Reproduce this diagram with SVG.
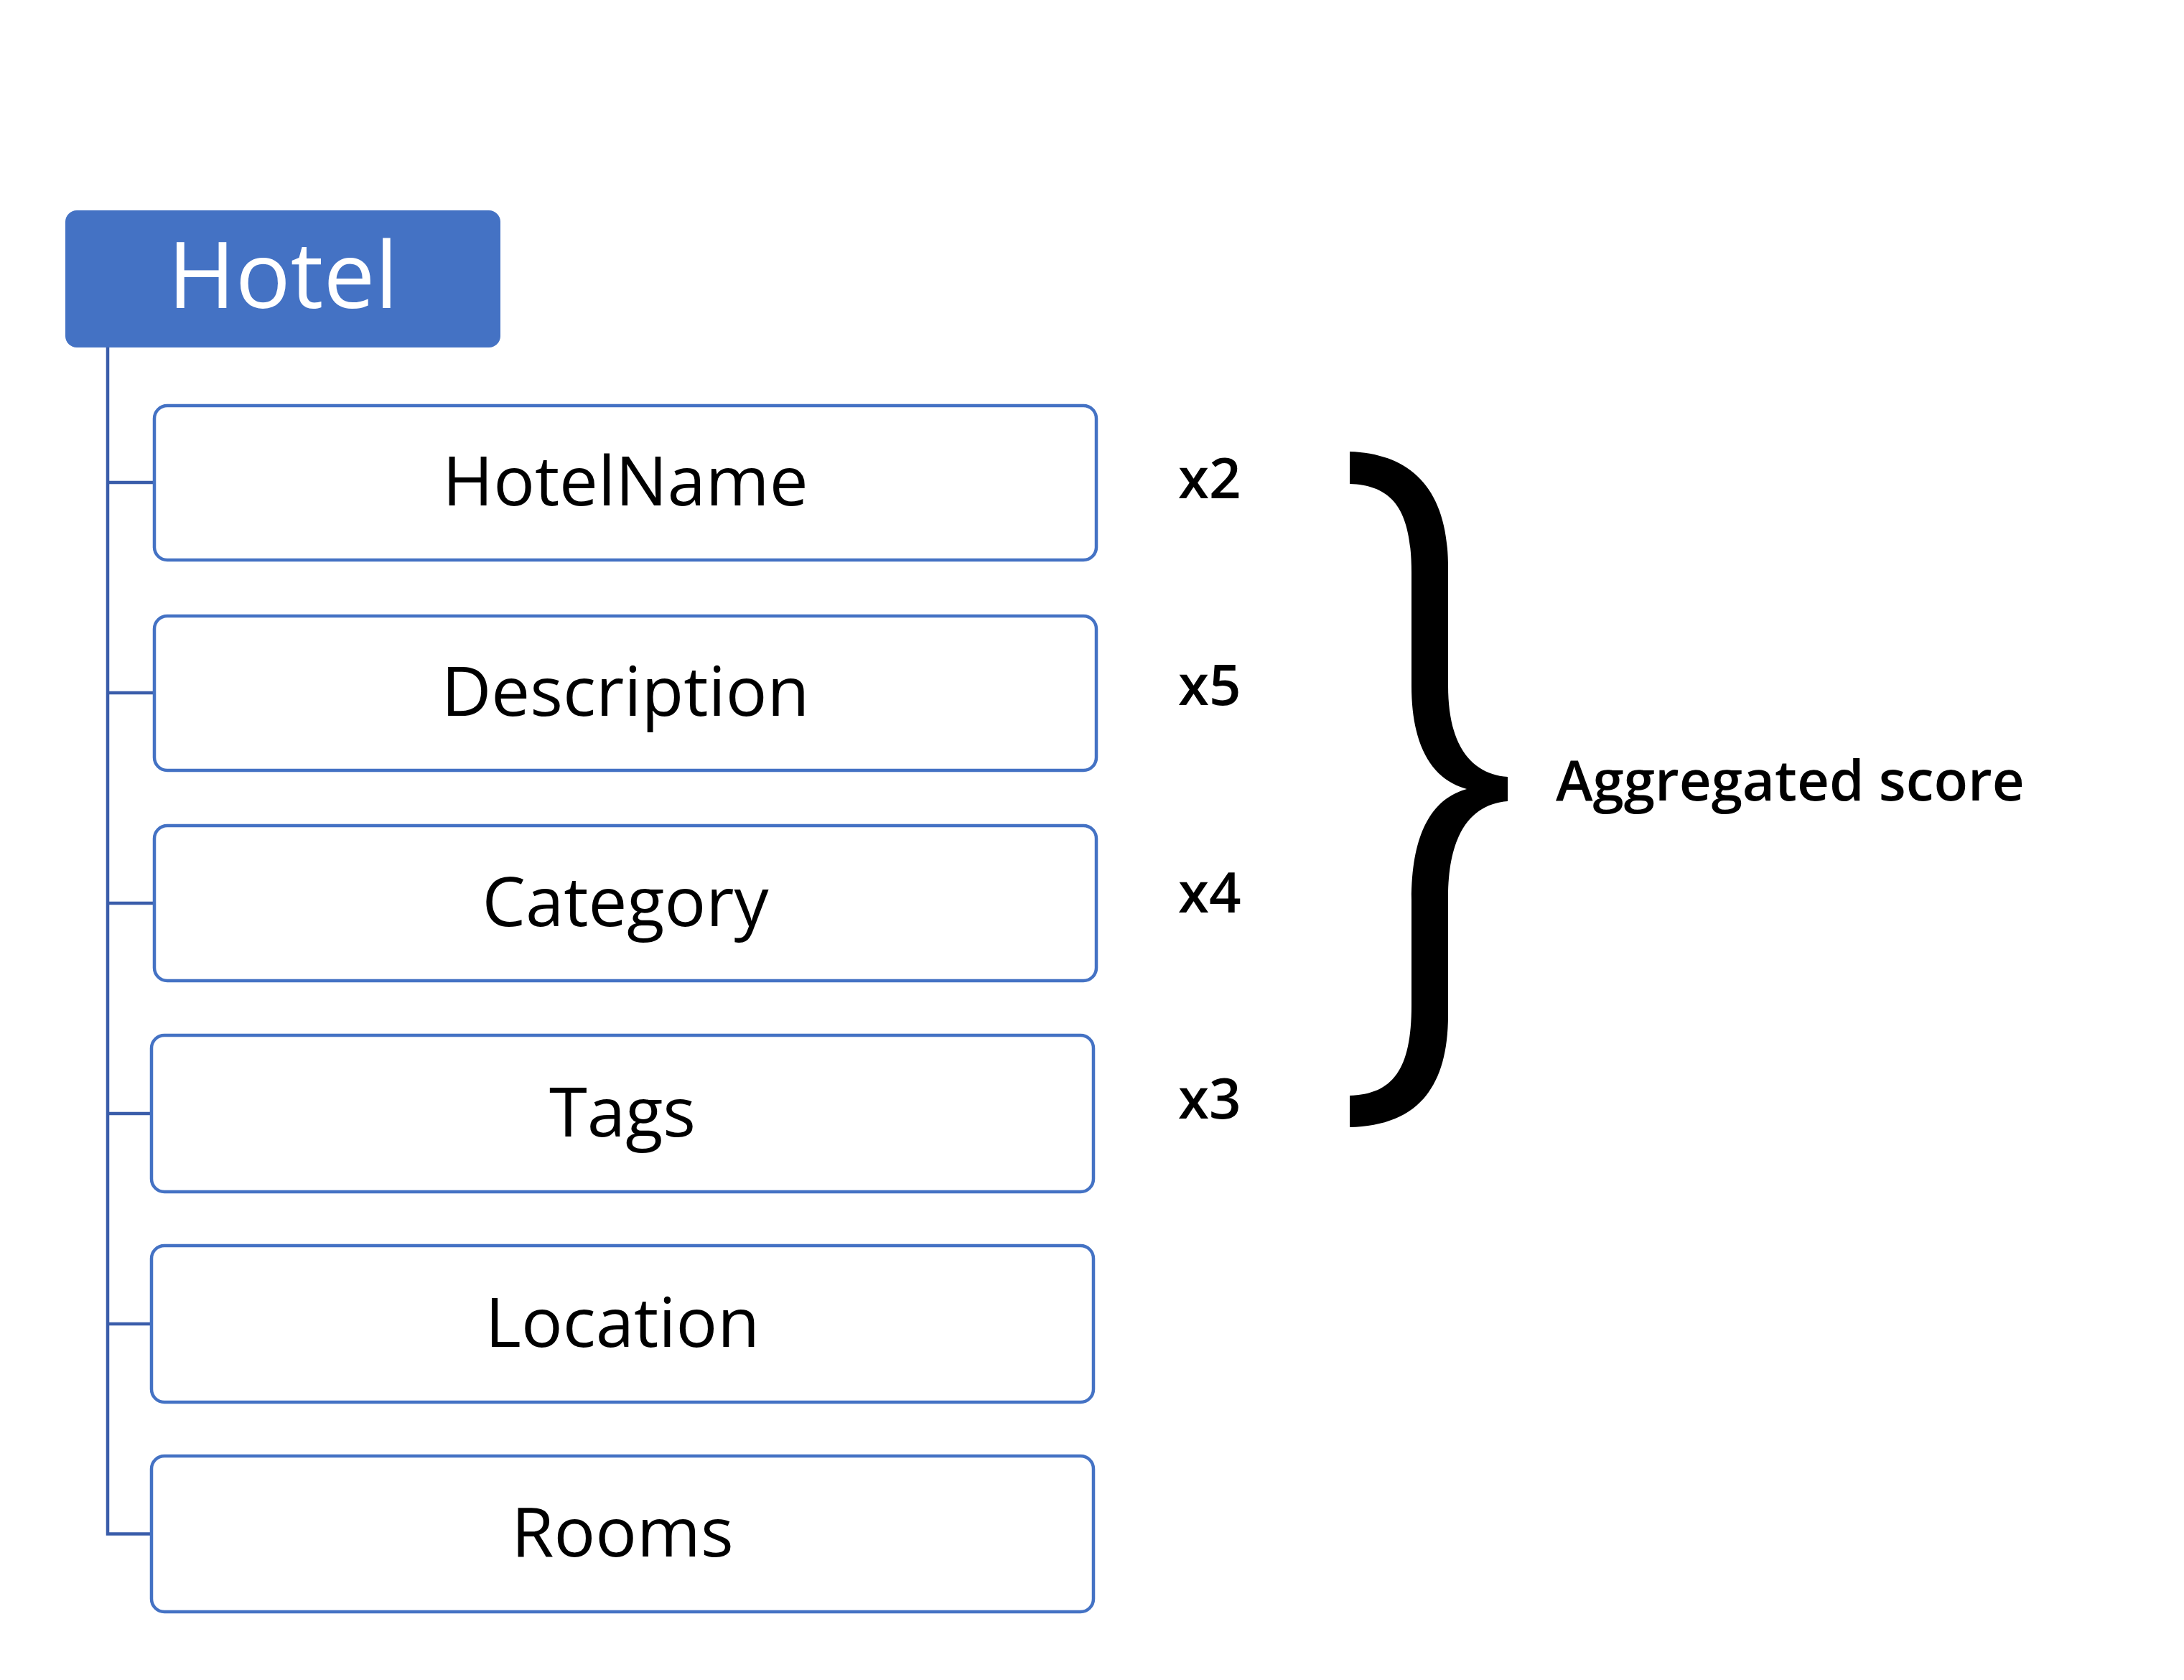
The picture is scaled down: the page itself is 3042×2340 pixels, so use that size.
<svg xmlns="http://www.w3.org/2000/svg" width="3042" height="2340" viewBox="0 0 3042 2340">
<style>
.box{fill:#FFFFFF;stroke:#4472C4;stroke-width:4.5}
.lbl{font-family:"Open Sans","Noto Sans","Liberation Sans",sans-serif;font-size:96px;fill:#000000;text-anchor:middle}
.mul{font-family:"Open Sans","Noto Sans","Liberation Sans",sans-serif;font-size:78px;font-weight:600;fill:#000000}
.conn{fill:none;stroke:#3A5DAA;stroke-width:4.5}
</style>
<rect width="3042" height="2340" fill="#FFFFFF"/>
<g id="connectors">
<path class="conn" d="M150 484 V2136.5 H211"/>
<path class="conn" d="M150 672 H215"/>
<path class="conn" d="M150 965 H215"/>
<path class="conn" d="M150 1258 H215"/>
<path class="conn" d="M150 1551 H211"/>
<path class="conn" d="M150 1844 H211"/>
</g>
<g id="hotel">
<rect x="91" y="293" width="606" height="191" rx="16" fill="#4472C4"/>
<text x="394" y="429" font-family="Open Sans, Noto Sans, Liberation Sans, sans-serif" font-size="128" fill="#FFFFFF" text-anchor="middle">Hotel</text>
</g>
<g id="hotelname">
<rect class="box" x="215" y="565" width="1312" height="215" rx="18"/>
<text class="lbl" x="871" y="704">HotelName</text>
</g>
<g id="description">
<rect class="box" x="215" y="858" width="1312" height="215" rx="18"/>
<text class="lbl" x="871" y="997">Description</text>
</g>
<g id="category">
<rect class="box" x="215" y="1150" width="1312" height="216" rx="18"/>
<text class="lbl" x="871" y="1290">Category</text>
</g>
<g id="tags">
<rect class="box" x="211" y="1442" width="1312" height="218" rx="18"/>
<text class="lbl" x="867" y="1583">Tags</text>
</g>
<g id="location">
<rect class="box" x="211" y="1735" width="1312" height="218" rx="18"/>
<text class="lbl" x="867" y="1876">Location</text>
</g>
<g id="rooms">
<rect class="box" x="211" y="2028" width="1312" height="217" rx="18"/>
<text class="lbl" x="867" y="2168">Rooms</text>
</g>
<g id="weights">
<text class="mul" x="1641" y="694">x2</text>
<text class="mul" x="1641" y="982">x5</text>
<text class="mul" x="1641" y="1271">x4</text>
<text class="mul" x="1641" y="1558">x3</text>
</g>
<g id="brace">
<path fill="#000000" d="M1880 629 C1965 632 2017 680 2017 790 L2017 955 C2017 1040 2050 1078 2100 1082 L2100 1116 C2050 1120 2017 1160 2017 1250 L2017 1414 C2017 1525 1965 1568 1880 1570 L1880 1526 C1940 1524 1966 1490 1966 1400 L1966 1253 C1966 1160 1995 1112 2043 1099 C1995 1086 1966 1040 1966 955 L1966 798 C1966 710 1940 676 1880 674 Z"/>
</g>
<g id="aggregated">
<text class="mul" x="2167" y="1115" font-size="80">Aggregated score</text>
</g>
</svg>
